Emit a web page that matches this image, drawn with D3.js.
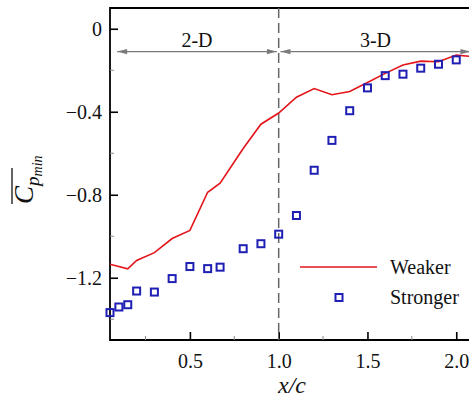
<!DOCTYPE html>
<html>
<head>
<meta charset="utf-8">
<script src="https://cdn.jsdelivr.net/npm/d3@7"></script>
<style>
  html, body { margin: 0; padding: 0; background: #fff; overflow: hidden; }
  svg { display: block; font-family: "Liberation Serif", "Times New Roman", serif; }
</style>
</head>
<body>
<div id="chart"></div>
<script>
// --- data ---
const weakerX = [0.05, 0.15, 0.2, 0.3, 0.4, 0.5, 0.6, 0.67, 0.8, 0.9, 1.0, 1.1, 1.2, 1.3, 1.4, 1.5, 1.6, 1.7, 1.8, 1.9, 2.0, 2.1];
const weakerCp = [-1.135, -1.157, -1.117, -1.079, -1.011, -0.972, -0.788, -0.744, -0.577, -0.46, -0.406, -0.33, -0.288, -0.318, -0.302, -0.259, -0.215, -0.175, -0.156, -0.159, -0.127, -0.135];

const strongerX = [0.05, 0.1, 0.15, 0.2, 0.3, 0.4, 0.5, 0.6, 0.67, 0.8, 0.9, 1.0, 1.1, 1.2, 1.3, 1.4, 1.5, 1.6, 1.7, 1.8, 1.9, 2.0];
const strongerCp = [-1.368, -1.341, -1.33, -1.264, -1.269, -1.204, -1.146, -1.156, -1.149, -1.06, -1.036, -0.99, -0.90, -0.682, -0.538, -0.395, -0.285, -0.226, -0.219, -0.19, -0.171, -0.15];

const xTicks = [0.5, 1.0, 1.5, 2.0];
const xMinorTicks = [0.25, 0.75, 1.25, 1.75];
const yTicks = [0, -0.4, -0.8, -1.2];
const yMinorTicks = [-0.2, -0.6, -1.0, -1.4];

// regions marked above the curves
const regions = [
  { label: "2-D", from: 0.09, to: 0.99 },
  { label: "3-D", from: 1.01, to: 2.08 }
];
const seriesNames = ["Weaker", "Stronger"];

// --- layout ---
const width = 469, height = 399;
const marginLeft = 110, marginTop = 8, plotRight = 474, plotBottom = 340;

const x = d3.scaleLinear().domain([0.05, 2.1]).range([marginLeft, plotRight]);
const y = d3.scaleLinear().domain([-1.5, 0.1]).range([plotBottom, marginTop]);

const red = "#e3151b", blue = "#1f1fb4", grey = "#7a7a7a";

const svg = d3.create("svg")
    .attr("width", width)
    .attr("height", height)
    .attr("viewBox", [0, 0, width, height]);

// frame (right side runs off the picture)
svg.append("path")
    .attr("d", `M${plotRight + 5},${marginTop}H${marginLeft}V${plotBottom}H${plotRight + 5}`)
    .attr("fill", "none")
    .attr("stroke", "#000")
    .attr("stroke-width", 1.8);

// x axis, ticks point inward
const xAxis = svg.append("g")
    .attr("transform", `translate(0,${plotBottom})`)
    .call(d3.axisBottom(x).tickValues(xTicks).tickSize(-8).tickFormat(d3.format(".1f")));
xAxis.select(".domain").remove();
xAxis.selectAll(".tick line").attr("stroke-width", 1.6);
xAxis.selectAll(".tick text")
    .attr("y", 14)
    .attr("dy", "0.71em")
    .attr("font-size", 20)
    .attr("font-family", "Liberation Serif")
    .attr("fill", "#111");

svg.append("g").selectAll("line")
  .data(xMinorTicks)
  .join("line")
    .attr("x1", d => x(d)).attr("x2", d => x(d))
    .attr("y1", plotBottom).attr("y2", plotBottom - 4)
    .attr("stroke", "#888").attr("stroke-width", 1);

// y axis
const yFmt = d => d === 0 ? "0" : d3.format(".1f")(d).replace("-", "\u2212");
const yAxis = svg.append("g")
    .attr("transform", `translate(${marginLeft},0)`)
    .call(d3.axisLeft(y).tickValues(yTicks).tickSize(-8).tickFormat(yFmt));
yAxis.select(".domain").remove();
yAxis.selectAll(".tick line").attr("stroke-width", 1.6);
yAxis.selectAll(".tick text")
    .attr("x", -8)
    .attr("font-size", 20)
    .attr("font-family", "Liberation Serif")
    .attr("fill", "#111");

svg.append("g").selectAll("line")
  .data(yMinorTicks)
  .join("line")
    .attr("x1", marginLeft).attr("x2", marginLeft + 4)
    .attr("y1", d => y(d)).attr("y2", d => y(d))
    .attr("stroke", "#888").attr("stroke-width", 1);

// dashed divider at x/c = 1
svg.append("line")
    .attr("x1", x(1)).attr("x2", x(1))
    .attr("y1", marginTop).attr("y2", plotBottom)
    .attr("stroke", "#666")
    .attr("stroke-width", 1.5)
    .attr("stroke-dasharray", "10,5");

// region arrows
const arrowY = y(-0.11);
const heads = (tipX, dir) => `M${tipX},${arrowY}L${tipX + dir * 10},${arrowY - 2.6}L${tipX + dir * 10},${arrowY + 2.6}Z`;
regions.forEach(r => {
  const g = svg.append("g");
  g.append("line")
      .attr("x1", x(r.from)).attr("x2", x(r.to))
      .attr("y1", arrowY).attr("y2", arrowY)
      .attr("stroke", grey).attr("stroke-width", 1.3);
  g.append("path").attr("d", heads(x(r.from), 1)).attr("fill", grey);
  g.append("path").attr("d", heads(x(r.to), -1)).attr("fill", grey);
  g.append("text")
      .attr("x", (x(r.from) + x(r.to)) / 2)
      .attr("y", arrowY - 5)
      .attr("text-anchor", "middle")
      .attr("font-size", 20)
      .attr("fill", "#111")
      .text(r.label);
});

// weaker: red line
const weaker = weakerX.map((d, i) => [d, weakerCp[i]]);
svg.append("path")
    .datum(weaker)
    .attr("fill", "none")
    .attr("stroke", red)
    .attr("stroke-width", 1.6)
    .attr("d", d3.line().x(d => x(d[0])).y(d => y(d[1])));

// stronger: open squares
const stronger = strongerX.map((d, i) => [d, strongerCp[i]]);
const sq = 7;
svg.append("g").selectAll("rect")
  .data(stronger)
  .join("rect")
    .attr("x", d => x(d[0]) - sq / 2)
    .attr("y", d => y(d[1]) - sq / 2)
    .attr("width", sq).attr("height", sq)
    .attr("fill", "none")
    .attr("stroke", blue)
    .attr("stroke-width", 2);

// legend
const legend = svg.append("g");
legend.append("line")
    .attr("x1", 300).attr("x2", 377).attr("y1", 267).attr("y2", 267)
    .attr("stroke", red).attr("stroke-width", 1.6);
legend.append("rect")
    .attr("x", 339 - sq / 2).attr("y", 297.5 - sq / 2)
    .attr("width", sq).attr("height", sq)
    .attr("fill", "none").attr("stroke", blue).attr("stroke-width", 2);
legend.selectAll("text")
  .data(seriesNames)
  .join("text")
    .attr("x", 390)
    .attr("y", (d, i) => 274 + i * 30)
    .attr("font-size", 20)
    .attr("fill", "#111")
    .text(d => d);

// x label
svg.append("text")
    .attr("x", (marginLeft + plotRight) / 2)
    .attr("y", 393)
    .attr("text-anchor", "middle")
    .attr("font-size", 24)
    .attr("font-style", "italic")
    .attr("fill", "#111")
    .text("x/c");

// y label: overlined C with subscript p_min
const yl = svg.append("g").attr("transform", "translate(33,204) rotate(-90)");
const yt = yl.append("text")
    .attr("font-style", "italic")
    .attr("fill", "#111");
yt.append("tspan").attr("font-size", 27).text("C");
yt.append("tspan").attr("font-size", 19).attr("dy", 6).text("p");
yt.append("tspan").attr("font-size", 14).attr("dy", 3).text("min");
yl.append("line")
    .attr("x1", 0).attr("x2", 36)
    .attr("y1", -21).attr("y2", -21)
    .attr("stroke", "#111").attr("stroke-width", 1.3);

d3.select("#chart").node().append(svg.node());
</script>
</body>
</html>
